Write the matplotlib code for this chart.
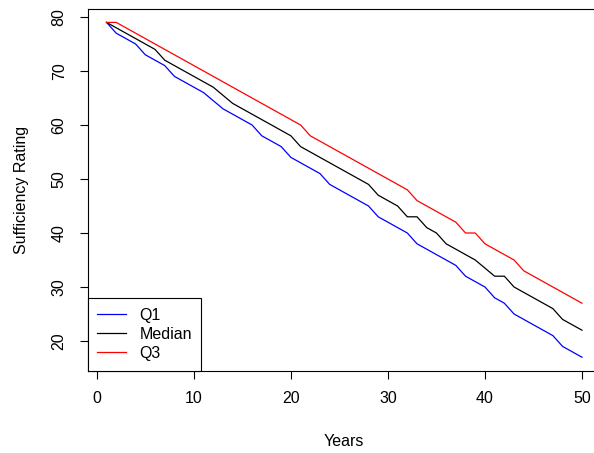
import matplotlib
matplotlib.use("Agg")
import matplotlib.pyplot as plt

plt.rcParams['font.family'] = ['Liberation Sans', 'DejaVu Sans']

years = list(range(1, 51))
q1 = [79, 77, 76, 75, 73, 72, 71, 69, 68, 67,
      66, 64.5, 63, 62, 61, 60, 58, 57, 56, 54,
      53, 52, 51, 49, 48, 47, 46, 45, 43, 42,
      41, 40, 38, 37, 36, 35, 34, 32, 31, 30,
      28, 27, 25, 24, 23, 22, 21, 19, 18, 17]
median = [79, 78, 77, 76, 75, 74, 72, 71, 70, 69,
          68, 67, 65.5, 64, 63, 62, 61, 60, 59, 58,
          56, 55, 54, 53, 52, 51, 50, 49, 47, 46,
          45, 43, 43, 41, 40, 38, 37, 36, 35, 33.5,
          32, 32, 30, 29, 28, 27, 26, 24, 23, 22]
q3 = [79, 79, 78, 77, 76, 75, 74, 73, 72, 71,
      70, 69, 68, 67, 66, 65, 64, 63, 62, 61,
      60, 58, 57, 56, 55, 54, 53, 52, 51, 50,
      49, 48, 46, 45, 44, 43, 42, 40, 40, 38,
      37, 36, 35, 33, 32, 31, 30, 29, 28, 27]
labels = ["Q1", "Median", "Q3"]
colors = ["blue", "black", "red"]

fig = plt.figure(figsize=(5.94, 4.53), dpi=100)
W, H = 594, 453
ax = fig.add_axes([87.5 / W, 1 - 370.6 / H, (601 - 87.5) / W, (370.6 - 9) / H])

for s, lab, c in zip([q1, median, q3], labels, colors):
    ax.plot(years, s, color=c, lw=0.9, label=lab)

# R default 4% axis extension
ax.set_xlim(1 - 0.04 * 49, 50 + 0.04 * 49)
ax.set_ylim(17 - 0.04 * 62, 79 + 0.04 * 62)
ax.set_xticks([0, 10, 20, 30, 40, 50])
ax.set_yticks([20, 30, 40, 50, 60, 70, 80])
ax.tick_params(axis='both', length=6, width=0.8, labelsize=11.5, pad=9)
for t in ax.get_yticklabels():
    t.set_rotation(90)
    t.set_va('center')
for sp in ax.spines.values():
    sp.set_linewidth(0.8)

ax.set_xlabel("Years", fontsize=11.5, labelpad=20)
ax.set_ylabel("Sufficiency Rating", fontsize=11.5, labelpad=16)

leg = ax.legend(loc='lower left', bbox_to_anchor=(0, 0), borderaxespad=0,
                fancybox=False, edgecolor='black', framealpha=1, fontsize=11.5,
                handlelength=1.8, handletextpad=0.85, labelspacing=0.25,
                borderpad=0.6)
leg.get_frame().set_linewidth(0.8)

fig.savefig("out.png", dpi=100)
